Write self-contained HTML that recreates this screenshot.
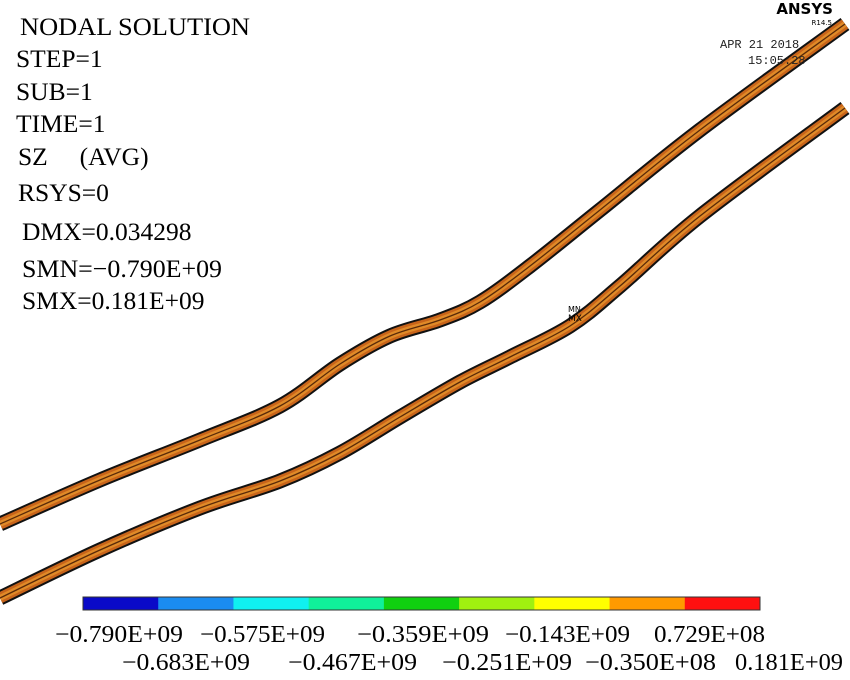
<!DOCTYPE html>
<html><head><meta charset="utf-8"><style>
body{margin:0;background:#fff;width:850px;height:680px;overflow:hidden}
svg{display:block}
.t{font-family:"Liberation Serif",serif;font-size:25.5px;fill:#000}
.l{font-family:"Liberation Serif",serif;font-size:24px;fill:#000}
.m{font-family:"Liberation Mono",monospace;font-size:12px;fill:#222}
</style></head><body>
<svg width="850" height="680">
<g>
<text class="t" x="20" y="35" textLength="230" lengthAdjust="spacingAndGlyphs">NODAL SOLUTION</text>
<text class="t" x="16" y="67">STEP=1</text>
<text class="t" x="16" y="100">SUB=1</text>
<text class="t" x="16" y="132">TIME=1</text>
<text class="t" x="18" y="165">SZ&#160;&#160;&#160;&#160;&#160;(AVG)</text>
<text class="t" x="18" y="201">RSYS=0</text>
<text class="t" x="22" y="240">DMX=0.034298</text>
<text class="t" x="22" y="277" textLength="200" lengthAdjust="spacingAndGlyphs">SMN=−0.790E+09</text>
<text class="t" x="22" y="309">SMX=0.181E+09</text>
</g>
<g id="beams" fill="none" stroke-linejoin="round" stroke-linecap="butt"></g>
<g>
<text x="833" y="14" text-anchor="end" style="font-family:'DejaVu Sans',sans-serif;font-weight:bold;font-size:15px">ANSYS</text>
<text x="832" y="25" text-anchor="end" style="font-family:'DejaVu Sans',sans-serif;font-size:7px">R14.5</text>
<text class="m" x="720" y="48">APR 21 2018</text>
<text class="m" x="748" y="64">15:05:28</text>
</g>
<text x="568" y="312" style="font-family:'DejaVu Sans';font-size:8px">MN</text>
<text x="568" y="321" style="font-family:'DejaVu Sans';font-size:9px">MX</text>
<g id="bar"></g>
<g id="labels" class="l"></g>
</svg>
<script>
const upper=[[0,524],[100,480],[200,440],[280,406],[340,364],[390,336],[440,320],[480,302],[530,266],[600,210],[700,130],[845,24]];
const lower=[[0,598],[100,550],[200,508],[280,481],[340,453],[400,417],[460,382],[510,357],[570,326],[620,286],[700,216],[845,108]];
const colors=["#0a0ac8","#1a8cf0","#10f0f0","#10f09a","#10d010","#a0f010","#ffff00","#ff9a00","#ff1010"];
const row1=["−0.790E+09","−0.575E+09","−0.359E+09","−0.143E+09","0.729E+08"];
const row2=["−0.683E+09","−0.467E+09","−0.251E+09","−0.350E+08","0.181E+09"];
const NS="http://www.w3.org/2000/svg";
const beams=document.getElementById('beams');
function smooth(pts){
  let d="M"+pts[0].join(",");
  for(let i=0;i<pts.length-1;i++){
    const p0=pts[Math.max(0,i-1)],p1=pts[i],p2=pts[i+1],p3=pts[Math.min(pts.length-1,i+2)];
    const c1=[p1[0]+(p2[0]-p0[0])/6,p1[1]+(p2[1]-p0[1])/6];
    const c2=[p2[0]-(p3[0]-p1[0])/6,p2[1]-(p3[1]-p1[1])/6];
    d+=" C"+c1.join(",")+" "+c2.join(",")+" "+p2.join(",");
  }
  return d;
}
function beam(pts,name){
  const d=smooth(pts);
  [["#111",15],["#c8641a",11],["#e08a28",6],["#5a2a08",1.3]].forEach(([c,w])=>{
    const p=document.createElementNS(NS,'path');
    p.setAttribute('d',d);p.setAttribute('stroke',c);p.setAttribute('stroke-width',w);
    
    
    beams.appendChild(p);
  });
}
beam(upper,'upper-beam');beam(lower,'lower-beam');
const bar=document.getElementById('bar');
const x0=83,x1=760,seg=(x1-x0)/colors.length;
colors.forEach((c,i)=>{
  const r=document.createElementNS(NS,'rect');
  r.setAttribute('x',x0+i*seg);r.setAttribute('y',597);r.setAttribute('width',seg+0.5);r.setAttribute('height',13);r.setAttribute('fill',c);
  
  
  bar.appendChild(r);
});
const fr=document.createElementNS(NS,'rect');
fr.setAttribute('x',x0);fr.setAttribute('y',597);fr.setAttribute('width',x1-x0);fr.setAttribute('height',13);fr.setAttribute('fill','none');fr.setAttribute('stroke','#333');
bar.appendChild(fr);
const lab=document.getElementById('labels');
const r1x=[55,200,357,505,654],r1w=[128,125,132,125,111];
const r2x=[122,288,442,585,735],r2w=[128,129,130,131,108];
function addLabel(s,x,y,w){
  const t=document.createElementNS(NS,'text');
  t.setAttribute('x',x);t.setAttribute('y',y);t.setAttribute('textLength',w);t.setAttribute('lengthAdjust','spacingAndGlyphs');t.textContent=s;
  
  
  lab.appendChild(t);
}
row1.forEach((s,i)=>addLabel(s,r1x[i],642,r1w[i]));
row2.forEach((s,i)=>addLabel(s,r2x[i],670,r2w[i]));
</script>
</body></html>
